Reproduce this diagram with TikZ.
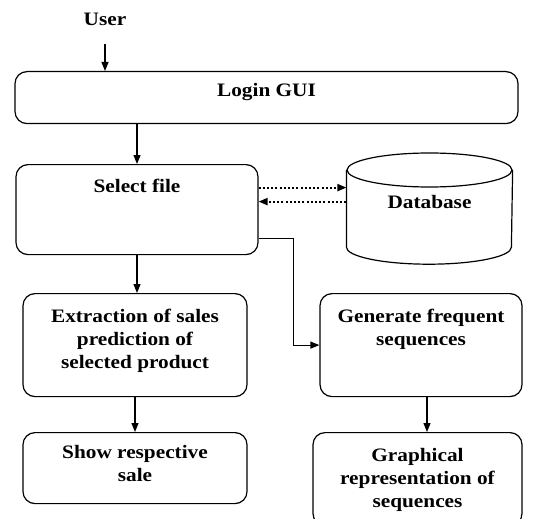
\documentclass[tikz,border=0pt]{standalone}
\usepackage{fontspec}
\setmainfont{Liberation Serif}[FakeStretch=1.12]
\usetikzlibrary{arrows.meta}
\tikzset{
  box/.style={draw, rounded corners=6pt, anchor=north, inner sep=0pt, align=center},
  arr/.style={-{Triangle[length=4.5pt,width=3.5pt]}},
  dotarr/.style={arr, dash pattern=on 1pt off 1.1pt, line width=1pt},
}
\begin{document}
\begin{tikzpicture}[x=0.5pt, y=-0.5pt, line width=0.6pt, font=\fontsize{9.5}{11.5}\selectfont\bfseries]
    \useasboundingbox (0,0) rectangle (533,518);

    \node [anchor=base, inner ysep=8.5pt] (user) at (105,26) {User};
    \node [box, minimum width=251.5pt, text height=12.5pt, text depth=13.5pt] (login) at (266.5,71) {Login GUI};
    \node [box, minimum width=121pt, text height=14pt, text depth=31pt] (select) at (137,164) {Select file};
    \node [anchor=north, inner sep=0pt, minimum width=82.5pt, text height=27.5pt, text depth=27.5pt] (db) at (429.5,153) {Database};
    \node [box, minimum width=112pt, text height=37.5pt, text depth=14pt] (extract) at (135,293) {Extraction of sales\\prediction of\\selected product};
    \node [box, minimum width=112pt, text height=24.5pt, text depth=11pt] (show) at (135,432) {Show respective\\sale};
    \node [box, minimum width=101pt, text height=26pt, text depth=25.5pt] (generate) at (421,293) {Generate frequent\\sequences};
    \node [box, minimum width=104.5pt, text height=37.5pt, text depth=9pt] (graphical) at (417.5,432) {Graphical\\representation of\\sequences};

    \draw ([yshift=-8.5pt]db.north west) -- ([yshift=8.5pt]db.south west) arc [start angle=180, end angle=0, x radius=82.5, y radius=17] -- ([yshift=-8.5pt]db.north east);
    \draw ([yshift=-8.5pt]db.north) ellipse [x radius=82.5, y radius=17];

    \draw [arr] (user) -- (user |- login.north);
    \draw [arr] (login.south -| select.north) -- (select.north);
    \draw [dotarr] ([yshift=11pt]select.east) -- ([yshift=11pt]select.east -| db.west);
    \draw [dotarr] ([yshift=4pt]select.east -| db.west) -- ([yshift=4pt]select.east);
    \draw [arr] ([yshift=-14.5pt]select.east) -- ++(35,0) |- (generate.west);
    \draw [arr] (select.south) -- (select.south |- extract.north);
    \draw [arr] (extract.south) -- (show.north);
    \draw [arr] ([xshift=3pt]generate.south) -- ([xshift=3pt]generate.south |- graphical.north);
\end{tikzpicture}
\end{document}
